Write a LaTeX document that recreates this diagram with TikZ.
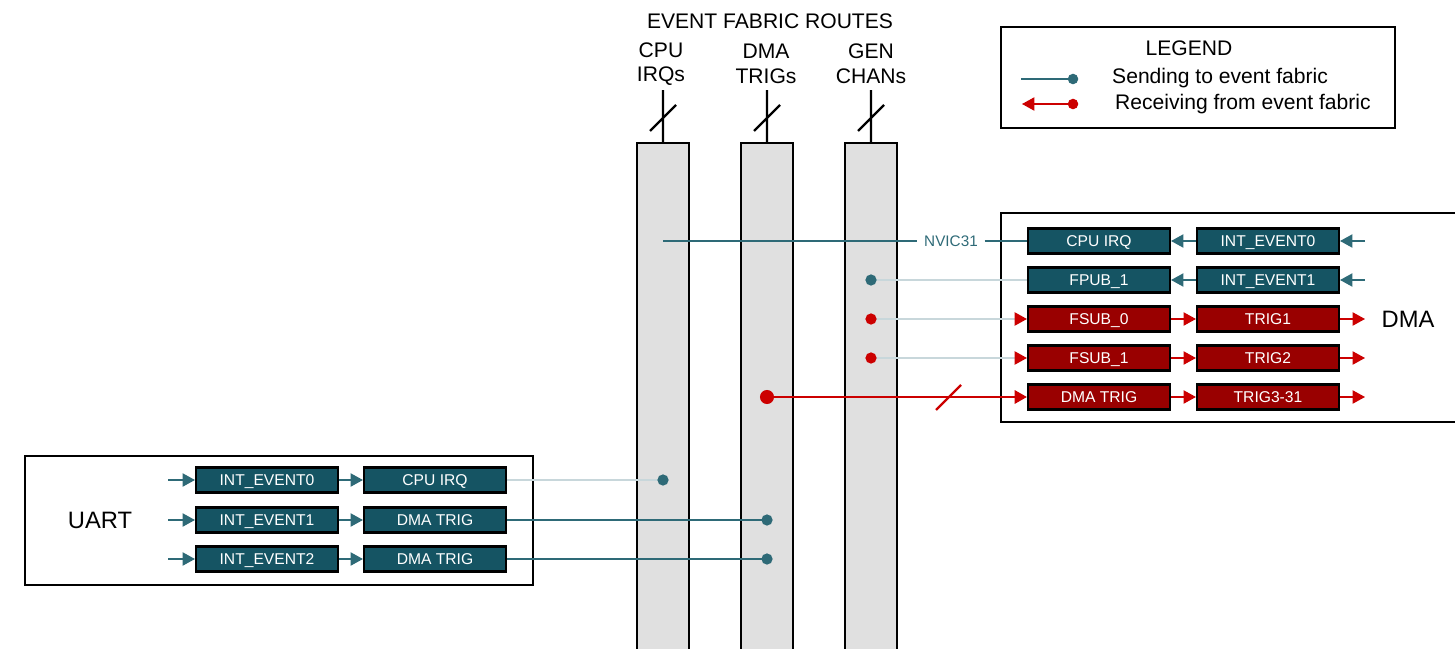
\documentclass[tikz,border=0pt]{standalone}
\usepackage{fontspec}
\setmainfont{Liberation Sans}
\usetikzlibrary{arrows.meta,positioning}

\definecolor{evteal}{HTML}{155463}
\definecolor{evred}{HTML}{990000}
\definecolor{arrred}{HTML}{CC0000}
\definecolor{lineteal}{HTML}{2E6A77}
\definecolor{faint}{HTML}{C8D7DB}
\definecolor{bargray}{HTML}{E0E0E0}

\tikzset{
  tbox/.style={draw=black, line width=1.2pt, fill=evteal, text=white,
    minimum width=2.84cm, minimum height=0.5cm, inner sep=0pt,
    text height=6.4pt, text depth=0pt,
    font=\fontsize{8.9}{10}\selectfont},
  rbox/.style={tbox, fill=evred},
  tarr/.style={draw=lineteal, line width=0.75pt, -{Triangle[length=7pt,width=7.5pt]}},
  rarr/.style={draw=arrred, line width=0.75pt, -{Triangle[length=7pt,width=7.5pt]}},
  fainttip/.style={draw=faint, line width=0.9pt, -{Triangle[color=arrred,length=7pt,width=7.5pt]}},
  tline/.style={draw=lineteal, line width=0.75pt},
  fline/.style={draw=faint, line width=0.9pt},
  fabbar/.style={draw=black, line width=1.5pt, fill=bargray},
  outer/.style={draw=black, line width=1.1pt},
  big/.style={font=\fontsize{12}{14}\selectfont, align=center},
  huge/.style={font=\fontsize{13.5}{16}\selectfont}
}

\begin{document}
\begin{tikzpicture}[x=0.02cm, y=-0.02cm]
    \useasboundingbox (0,0) rectangle (1455,649);

    % fabric routes
    \node[big] (title) at (770,21) {EVENT FABRIC ROUTES};
    \node[big] (cpuhd) at (661,64) {CPU\\IRQs};
    \node[big] (dmahd) at (766,64) {DMA\\TRIGs};
    \node[big] (genhd) at (871,64) {GEN\\CHANs};

    \draw[fabbar] (637,670) -- (637,143) -- (689,143) -- (689,670);
    \draw[fabbar] (741,670) -- (741,143) -- (793,143) -- (793,670);
    \draw[fabbar] (845,670) -- (845,143) -- (897,143) -- (897,670);

    \draw[line width=1.3pt] (663,90) -- (663,143) (650,131) -- (676,105);
    \draw[line width=1.3pt] (767,90) -- (767,143) (754,131) -- (780,105);
    \draw[line width=1.3pt] (871,90) -- (871,143) (858,131) -- (884,105);

    % legend
    \draw[outer] (1001,27) rectangle (1395,128);
    \node[big, anchor=base] (leghd) at (1189,55) {LEGEND};
    \node[big, anchor=base west] (legsend) at (1106,83) {Sending to event fabric};
    \node[big, anchor=base west] (legrecv) at (1109,109) {Receiving from event fabric};
    \coordinate (ls0) at (1021,79);
    \coordinate (ls1) at (1073,79);
    \coordinate (lr0) at (1022,104);
    \coordinate (lr1) at (1073,104);
    \draw[tline] (ls0) -- (ls1);
    \fill[lineteal] (ls1) circle (3pt);
    \draw[rarr] (lr1) -- (lr0);
    \fill[arrred] (lr1) circle (3pt);

    % DMA
    \draw[outer] (1470,213) -- (1001,213) -- (1001,422) -- (1470,422);
    \node[huge] (dmalbl) at (1408,319) {DMA};

    \node[tbox] (dcpu)   at (1099,241) {CPU IRQ};
    \node[tbox] (dint0)  at (1268,241) {INT\_EVENT0};
    \node[tbox] (dfpub)  at (1099,280) {FPUB\_1};
    \node[tbox] (dint1)  at (1268,280) {INT\_EVENT1};
    \node[rbox] (dfsub0) at (1099,319) {FSUB\_0};
    \node[rbox] (dtrig1) at (1268,319) {TRIG1};
    \node[rbox] (dfsub1) at (1099,358) {FSUB\_1};
    \node[rbox] (dtrig2) at (1268,358) {TRIG2};
    \node[rbox] (ddmat)  at (1099,397) {DMA TRIG};
    \node[rbox] (dtrig3) at (1268,397) {TRIG3-31};

    \coordinate (din0) at (1365,241);
    \coordinate (din1) at (1365,280);
    \coordinate (dout1) at (1365,319);
    \coordinate (dout2) at (1365,358);
    \coordinate (dout3) at (1365,397);

    \draw[tarr] (din0) -- (dint0);
    \draw[tarr] (din1) -- (dint1);
    \draw[tarr] (dint0) -- (dcpu);
    \draw[tarr] (dint1) -- (dfpub);
    \draw[rarr] (dfsub0) -- (dtrig1);
    \draw[rarr] (dfsub1) -- (dtrig2);
    \draw[rarr] (ddmat) -- (dtrig3);
    \draw[rarr] (dtrig1) -- (dout1);
    \draw[rarr] (dtrig2) -- (dout2);
    \draw[rarr] (dtrig3) -- (dout3);

    \coordinate (cpun) at (663,241);
    \coordinate (genp) at (871,280);
    \coordinate (gens0) at (871,319);
    \coordinate (gens1) at (871,358);
    \coordinate (dmas) at (767,397);

    \node[text=lineteal, font=\fontsize{8.7}{10}\selectfont, inner xsep=3.7pt] (nvic) at (951,241) {NVIC31};
    \draw[tline] (cpun) -- (nvic.west);
    \draw[tline] (nvic.east) -- (dcpu.west);
    \draw[fline] (genp) -- (dfpub.west);
    \fill[lineteal] (genp) circle (3.2pt);
    \draw[fainttip] (gens0) -- (dfsub0.west);
    \fill[arrred] (gens0) circle (3.2pt);
    \draw[fainttip] (gens1) -- (dfsub1.west);
    \fill[arrred] (gens1) circle (3.2pt);
    \draw[arrred, line width=1.4pt, -{Triangle[length=7pt,width=7.5pt]}] (dmas) -- (ddmat.west);
    \fill[arrred] (dmas) circle (4pt);
    \draw[arrred, line width=1.4pt] (936,410) -- (961,385);

    % UART
    \draw[outer] (25,456) rectangle (533,585);
    \node[huge] (uartlbl) at (100,520) {UART};

    \node[tbox] (uint0) at (267,480) {INT\_EVENT0};
    \node[tbox] (uirq)  at (435,480) {CPU IRQ};
    \node[tbox] (uint1) at (267,520) {INT\_EVENT1};
    \node[tbox] (udma1) at (435,520) {DMA TRIG};
    \node[tbox] (uint2) at (267,559) {INT\_EVENT2};
    \node[tbox] (udma2) at (435,559) {DMA TRIG};

    \coordinate (uin0) at (168,480);
    \coordinate (uin1) at (168,520);
    \coordinate (uin2) at (168,559);
    \draw[tarr] (uin0) -- (uint0);
    \draw[tarr] (uin1) -- (uint1);
    \draw[tarr] (uin2) -- (uint2);
    \draw[tarr] (uint0) -- (uirq);
    \draw[tarr] (uint1) -- (udma1);
    \draw[tarr] (uint2) -- (udma2);

    \coordinate (cpuu) at (663,480);
    \coordinate (dmau1) at (767,520);
    \coordinate (dmau2) at (767,559);
    \draw[fline] (uirq.east) -- (cpuu);
    \fill[lineteal] (cpuu) circle (3.2pt);
    \draw[tline] (udma1.east) -- (dmau1);
    \fill[lineteal] (dmau1) circle (3.2pt);
    \draw[tline] (udma2.east) -- (dmau2);
    \fill[lineteal] (dmau2) circle (3.2pt);
\end{tikzpicture}
\end{document}
